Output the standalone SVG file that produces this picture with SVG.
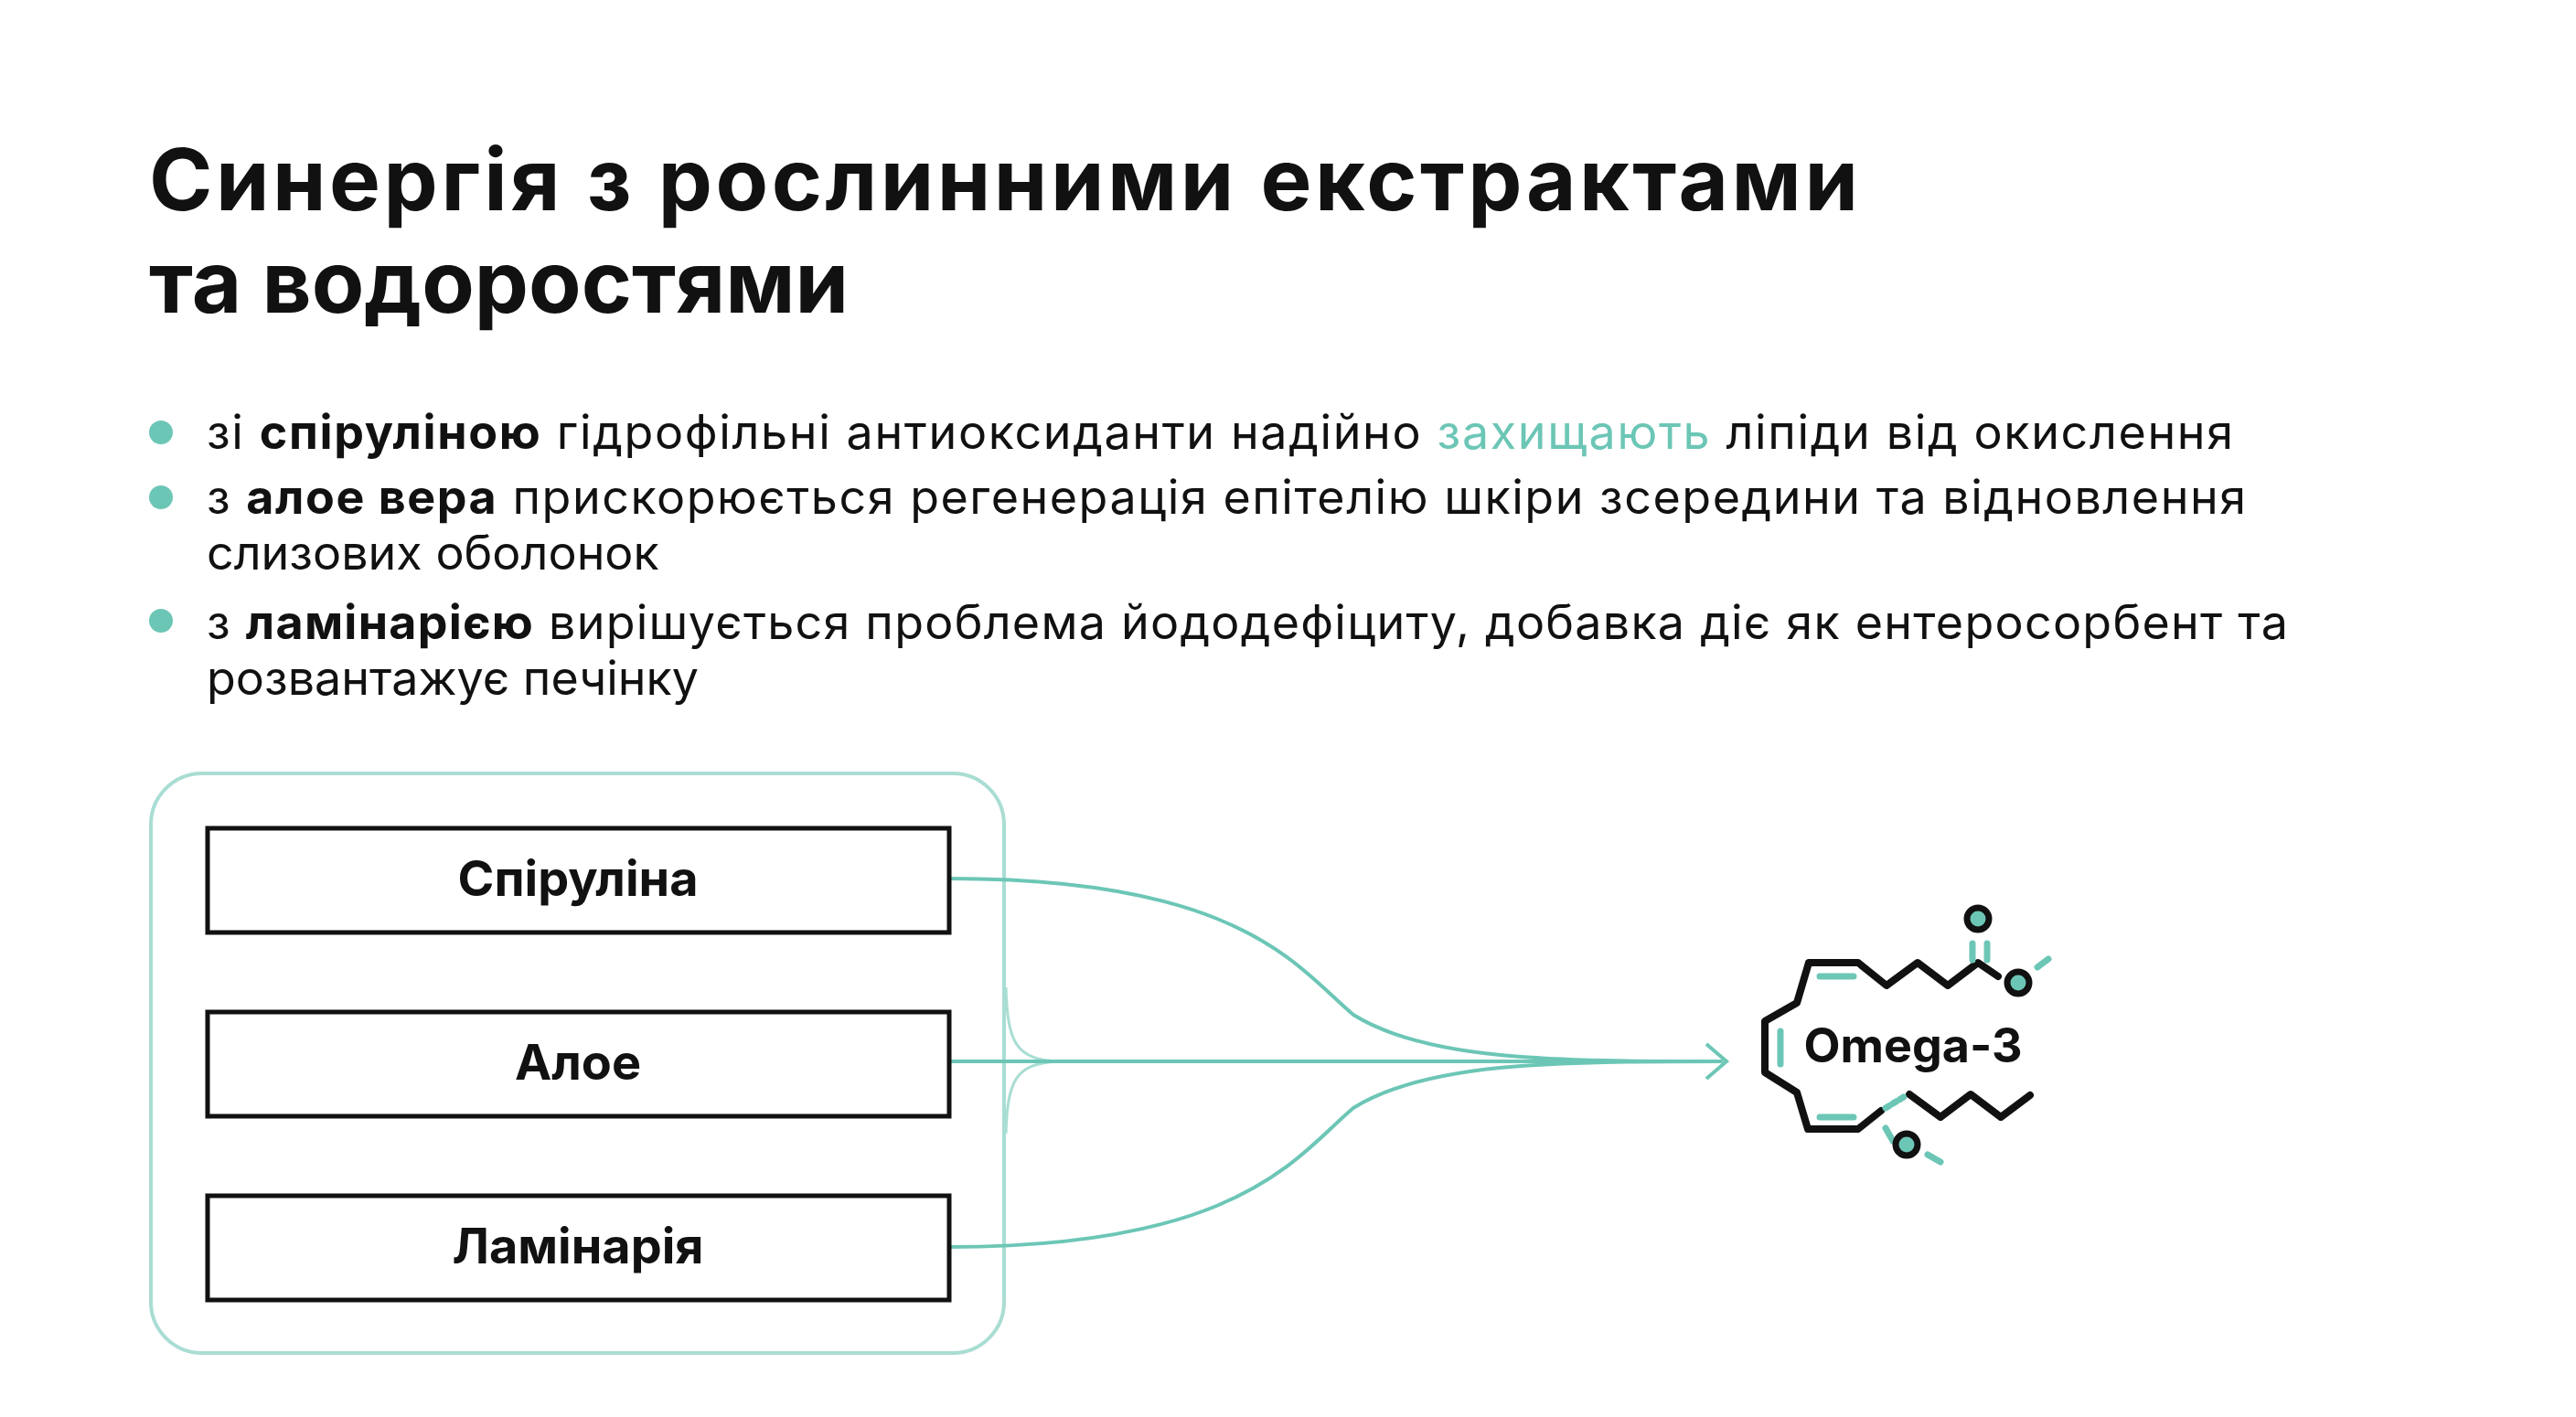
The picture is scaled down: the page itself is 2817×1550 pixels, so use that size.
<svg xmlns="http://www.w3.org/2000/svg" width="2817" height="1550" viewBox="0 0 2817 1550">
<style>
.t{font-family:Inter,"Noto Sans","Liberation Sans",sans-serif;fill:#111}
.h{font-size:94px;font-weight:700}
.b{font-size:52px;font-weight:400}
.b tspan.k{font-weight:700}
.lbl{font-size:54px;font-weight:700;text-anchor:middle}
.box{fill:#fff;stroke:#111;stroke-width:5}
.tl{fill:none;stroke:#6cc6b6;stroke-width:4}
.blk{fill:none;stroke:#111;stroke-width:8;stroke-linejoin:round;stroke-linecap:round}
.tm{fill:none;stroke:#6cc6b6;stroke-width:7;stroke-linecap:round}
.at{fill:#6cc6b6;stroke:#111;stroke-width:7}
</style>
<rect width="2817" height="1550" fill="#fff"/>
<g id="title">
<text class="t h" x="163" y="230" textLength="1869">Синергія з рослинними екстрактами</text>
<text class="t h" x="163" y="342">та водоростями</text>
</g>
<g id="bullets">
<circle cx="176" cy="473" r="13" fill="#6cc6b6"/>
<circle cx="176" cy="544" r="13" fill="#6cc6b6"/>
<circle cx="176" cy="679" r="13" fill="#6cc6b6"/>
<text class="t b" x="226" y="491" textLength="2216">зі <tspan class="k">спіруліною</tspan> гідрофільні антиоксиданти надійно <tspan fill="#6cc6b6">захищають</tspan> ліпіди від окислення</text>
<text class="t b" x="226" y="562" textLength="2230">з <tspan class="k">алое вера</tspan> прискорюється регенерація епітелію шкіри зсередини та відновлення</text>
<text class="t b" x="226" y="623">слизових оболонок</text>
<text class="t b" x="226" y="699" textLength="2276">з <tspan class="k">ламінарією</tspan> вирішується проблема йододефіциту, добавка діє як ентеросорбент та</text>
<text class="t b" x="226" y="760">розвантажує печінку</text>
</g>
<g id="group">
<rect x="165" y="846" width="933" height="634" rx="56" fill="none" stroke="#a9ddd3" stroke-width="4"/>
<path d="M1100 1080 C1102 1140 1110 1158 1156 1161 C1110 1164 1102 1182 1100 1240" fill="none" stroke="#a9ddd3" stroke-width="3"/>
</g>
<g id="connectors">
<path class="tl" d="M1038 961 C1360 961 1420 1060 1480 1110 C1560 1160 1700 1161 1884 1161"/>
<path class="tl" d="M1038 1161 L1884 1161"/>
<path class="tl" d="M1038 1364 C1360 1364 1420 1262 1480 1212 C1560 1162 1700 1161 1884 1161"/>
<path class="tl" d="M1866 1142 L1888 1161 L1866 1180"/>
</g>
<g id="n1"><rect class="box" x="227" y="906" width="811" height="114"/><text class="t lbl" x="632" y="980">Спіруліна</text></g>
<g id="n2"><rect class="box" x="227" y="1107" width="811" height="114"/><text class="t lbl" x="632" y="1181">Алое</text></g>
<g id="n3"><rect class="box" x="227" y="1308" width="811" height="114"/><text class="t lbl" x="632" y="1382">Ламінарія</text></g>
<g id="omega">
<path class="blk" d="M2185 1068 L2163 1053 L2130 1078 L2097 1053 L2063 1078 L2032 1053 L1978 1053 L1965 1097 L1930 1117 L1930 1173 L1965 1195 L1977 1235 L2032 1235 L2057 1215"/>
<path class="blk" d="M2088 1197 L2122 1222 L2155 1197 L2188 1222 L2220 1198"/>
<path class="tm" d="M2157 1032 V1050 M2173 1032 V1050 M2228 1058 L2240 1049 M1990 1068 H2027 M1947 1128 V1164 M1990 1222 H2027 M2062 1234 L2070 1248 M2108 1263 L2122 1271"/>
<path class="tm" d="M2062 1212 L2085 1198" stroke-dasharray="5 4" stroke-linecap="butt"/>
<circle class="at" cx="2163" cy="1005" r="12"/>
<circle class="at" cx="2207" cy="1075" r="12"/>
<circle class="at" cx="2085" cy="1252" r="12"/>
<text class="t" x="2092" y="1162" font-size="52" font-weight="700" text-anchor="middle">Omega-3</text>
</g>
</svg>
